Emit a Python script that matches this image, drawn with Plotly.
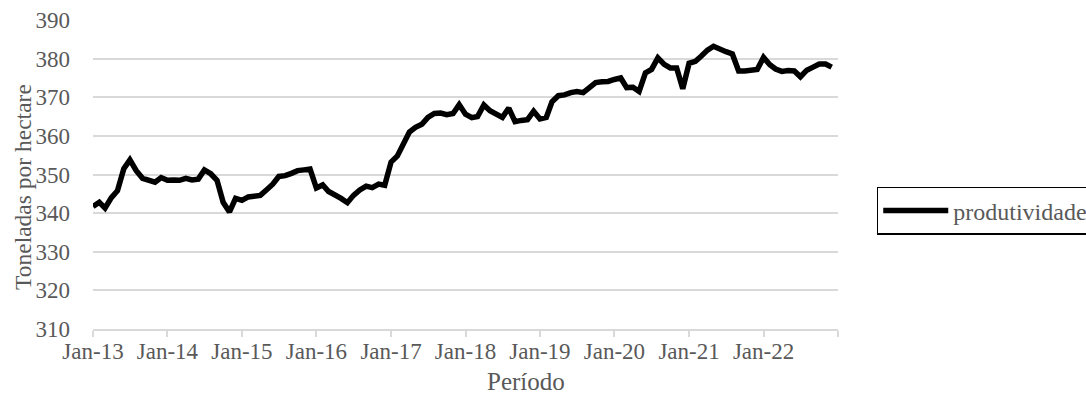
import plotly.graph_objects as go
import pandas as pd

# Monthly periods Jan-2013 .. Dec-2022
months = [d.strftime("%Y-%m-%d") for d in pd.date_range("2013-01-01", "2022-12-01", freq="MS")]

produtividade = [
    341.7, 342.8, 341.3, 344.0, 345.8, 351.5, 353.8, 351.0, 349.0, 348.5, 348.0, 349.2,  # 2013
    348.5, 348.6, 348.5, 349.0, 348.6, 348.8, 351.2, 350.2, 348.5, 342.8, 340.3, 343.8,  # 2014
    343.3, 344.2, 344.5, 344.6, 346.0, 347.5, 349.5, 349.7, 350.3, 351.0, 351.2, 351.4,  # 2015
    346.5, 347.3, 345.6, 344.8, 343.8, 342.7, 344.6, 346.0, 347.0, 346.6, 347.5, 347.2,  # 2016
    353.2, 354.8, 357.5, 361.0, 362.2, 363.0, 364.8, 365.8, 365.9, 365.5, 365.8, 368.1,  # 2017
    365.6, 364.7, 365.0, 368.0, 366.5, 365.8, 364.8, 367.2, 363.7, 364.0, 364.2, 366.4,  # 2018
    364.4, 364.8, 368.8, 370.4, 370.6, 371.2, 371.5, 371.2, 372.5, 373.8, 374.0, 374.1,  # 2019
    374.6, 375.0, 372.5, 372.6, 371.5, 376.3, 377.2, 380.2, 378.5, 377.6, 377.6, 372.2,  # 2020
    378.8, 379.3, 380.6, 382.2, 383.2, 382.3, 381.8, 381.2, 376.8, 376.8, 377.0, 377.2,  # 2021
    380.3, 378.4, 377.3, 376.7, 376.9, 376.8, 375.3, 377.0, 377.8, 378.6, 378.6, 377.8,  # 2022
]

tick_dates = [f"{y}-01-01" for y in range(2013, 2024)]
tick_labels = ["Jan-13", "Jan-14", "Jan-15", "Jan-16", "Jan-17", "Jan-18",
               "Jan-19", "Jan-20", "Jan-21", "Jan-22", ""]

y_ticks = [310, 320, 330, 340, 350, 360, 370, 380, 390]

x_title = "Período"
y_title = "Toneladas por hectare"

FONT = "Liberation Serif"
GRAY = "#595959"
GRID = "#d9d9d9"

fig = go.Figure()
fig.add_trace(go.Scatter(
    x=months, y=produtividade, mode="lines", name="produtividade",
    line=dict(color="black", width=5.5),
))

fig.update_layout(
    width=1086, height=405,
    margin=dict(l=93, r=248, t=20, b=76, autoexpand=False),
    plot_bgcolor="white", paper_bgcolor="white",
    font=dict(family=FONT, size=23, color=GRAY),
    showlegend=True,
    legend=dict(
        x=1.052, y=0.46, xanchor="left", yanchor="top",
        bordercolor="black", borderwidth=1.5,
        font=dict(family=FONT, size=24, color=GRAY),
        itemwidth=65,
    ),
    xaxis=dict(
        type="date",
        range=["2013-01-01", "2023-01-01"],
        tickmode="array", tickvals=tick_dates, ticktext=tick_labels,
        showgrid=False, showline=True, linecolor=GRID, linewidth=1.5,
        ticks="outside", ticklen=6, tickcolor=GRID, tickwidth=1.5,
        ticklabelstandoff=-5,
        tickfont=dict(family=FONT, size=23, color=GRAY),
        zeroline=False, automargin=False,
    ),
    yaxis=dict(
        range=[310, 390],
        tickmode="array", tickvals=y_ticks,
        showgrid=True, gridcolor=GRID, gridwidth=1.5,
        showline=False, ticks="", zeroline=False,
        ticklabelstandoff=22, automargin=False,
        tickfont=dict(family=FONT, size=23, color=GRAY),
    ),
    annotations=[
        dict(text=x_title, xref="paper", yref="paper",
             x=(526 - 93) / 745, y=(329 - 381) / 309, xanchor="center", yanchor="middle",
             showarrow=False, font=dict(family=FONT, size=25, color=GRAY)),
        dict(text=y_title, xref="paper", yref="paper", textangle=-90,
             x=(23 - 93) / 745, y=(329 - 187) / 309, xanchor="center", yanchor="middle",
             showarrow=False, font=dict(family=FONT, size=23.5, color=GRAY)),
    ],
)

fig.write_html("out.html")
